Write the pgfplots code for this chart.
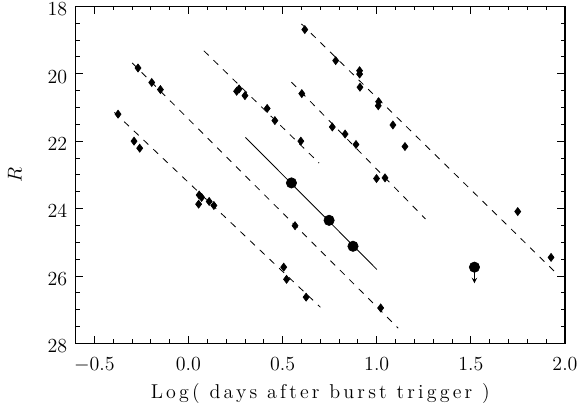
\documentclass[border=0pt]{standalone}
\usepackage{fontspec}
\newfontfamily\spacedfont[LetterSpace=16]{Latin Modern Roman}
\usepackage{pgfplots}
\pgfplotsset{compat=1.18}
\begin{document}
\begin{tikzpicture}
\begin{axis}[
    scale only axis,
    width=293.7pt,
    height=202.2pt,
    xmin=-0.6, xmax=2.0,
    ymin=18, ymax=28,
    y dir=reverse,
    xtick={-0.5,0,0.5,1,1.5,2},
    minor x tick num=4,
    ytick={18,20,...,28},
    minor y tick num=3,
    xticklabel style={yshift=-5pt, /pgf/number format/fixed, /pgf/number format/fixed zerofill, /pgf/number format/precision=1},
    yticklabel style={yshift=-1.8pt, xshift=-1.5pt},
    tick align=inside,
    major tick length=4.5pt,
    minor tick length=2.5pt,
    axis line style={line width=0.8pt},
    every tick/.style={black, line width=0.5pt},
    tick label style={font=\fontsize{12.5}{14}\selectfont},
    label style={font=\fontsize{12}{14}\selectfont},
    xlabel={{\spacedfont Log( days after burst trigger )}},
    ylabel={$R$},
    ylabel style={at={(axis description cs:-0.124,0.5)}, anchor=center},
    clip=false,
]
% dashed decay lines
\addplot[black, line width=0.5pt, dash pattern=on 4pt off 4pt] coordinates {(-0.393,21.15) (0.701,26.93)};
\addplot[black, line width=0.5pt, dash pattern=on 4pt off 4pt] coordinates {(-0.299,19.68) (1.114,27.55)};
\addplot[black, line width=0.5pt, dash pattern=on 4pt off 4pt] coordinates {(0.082,19.32) (0.694,22.65)};
\addplot[black, line width=0.5pt, dash pattern=on 4pt off 4pt] coordinates {(0.547,20.25) (1.259,24.31)};
\addplot[black, line width=0.5pt, dash pattern=on 4pt off 4pt] coordinates {(0.600,18.52) (1.952,25.91)};
% solid line through the big points
\addplot[black, line width=0.5pt] coordinates {(0.303,21.89) (1.001,25.81)};
% small diamonds
\addplot[only marks, mark=diamond*, mark size=2.4pt, black] coordinates {
(-0.374,21.20) (-0.289,22.00) (-0.259,22.21)
(0.057,23.60) (0.070,23.67) (0.054,23.87) (0.110,23.79) (0.135,23.91)
(0.506,25.74) (0.521,26.10) (0.625,26.63)
(-0.268,19.83) (-0.195,20.26) (-0.149,20.47) (0.566,24.51) (1.021,26.95)
(0.256,20.52) (0.269,20.45) (0.300,20.65) (0.418,21.03) (0.459,21.39) (0.597,22.00)
(0.602,20.59) (0.764,21.58) (0.832,21.79) (0.890,22.10) (0.999,23.11) (1.044,23.09)
(0.618,18.69) (0.782,19.61) (0.909,19.91) (0.909,20.01) (0.911,20.40)
(1.010,20.83) (1.008,20.95) (1.086,21.52) (1.150,22.16)
(1.749,24.09) (1.926,25.45)
};
% big circles
\addplot[only marks, mark=*, mark size=3.1pt, black] coordinates {
(0.547,23.24) (0.747,24.35) (0.874,25.12) (1.519,25.74)
};
% upper limit arrow
\addplot[black, line width=0.5pt, -stealth] coordinates {(1.519,25.74) (1.519,26.22)};
\end{axis}
\pgfresetboundingbox
\path ([xshift=-45.3pt,yshift=-42pt]current axis.south west) rectangle ([xshift=9.6pt,yshift=3.8pt]current axis.north east);
\end{tikzpicture}
\end{document}
